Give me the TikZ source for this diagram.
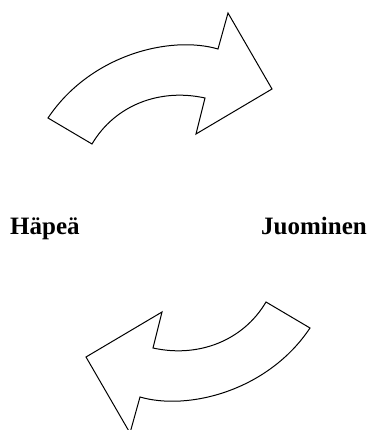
\documentclass[tikz,border=0pt]{standalone}
\usepackage{fontspec}
\setmainfont{Liberation Serif}
\newcommand{\bendarrow}{(48,118) .. controls (90,55) and (170,35) .. (218,49) -- (228,13) -- (272,89) -- (196,134) -- (205,98) .. controls (160,88) and (115,105) .. (92,144) -- cycle}
\tikzset{
  blockarrow/.style={draw,line width=1pt,fill=white,line join=miter},
  word/.style={inner sep=0pt,font=\fontsize{25}{30}\selectfont\bfseries}
}
\begin{document}
\begin{tikzpicture}[x=1pt,y=-1pt]
\useasboundingbox (0,0) rectangle (368,430);
% arrow on top, and the same one turned round below
\path[blockarrow] \bendarrow;
\path[blockarrow,rotate around={180:(179,223)}] \bendarrow;
\node[word,anchor=base west] (hapea) at (10,234) {Häpeä};
\node[word,anchor=base east] (juominen) at (367,234) {Juominen};
\end{tikzpicture}
\end{document}
